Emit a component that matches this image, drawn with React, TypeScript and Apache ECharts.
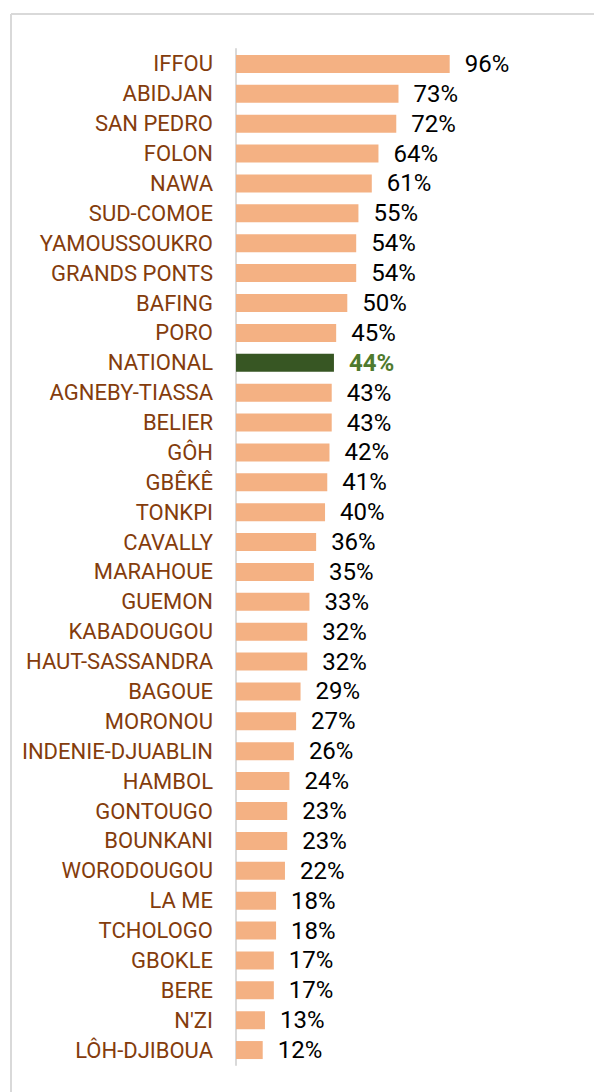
import React, { useEffect, useRef } from "react";
import * as echarts from "echarts";

const categories = [
  "IFFOU", "ABIDJAN", "SAN PEDRO", "FOLON", "NAWA", "SUD-COMOE", "YAMOUSSOUKRO",
  "GRANDS PONTS", "BAFING", "PORO", "NATIONAL", "AGNEBY-TIASSA", "BELIER", "GÔH",
  "GBÊKÊ", "TONKPI", "CAVALLY", "MARAHOUE", "GUEMON", "KABADOUGOU", "HAUT-SASSANDRA",
  "BAGOUE", "MORONOU", "INDENIE-DJUABLIN", "HAMBOL", "GONTOUGO", "BOUNKANI",
  "WORODOUGOU", "LA ME", "TCHOLOGO", "GBOKLE", "BERE", "N'ZI", "LÔH-DJIBOUA",
];
const values = [
  96, 73, 72, 64, 61, 55, 54, 54, 50, 45, 44, 43, 43, 42, 41, 40, 36, 35, 33, 32,
  32, 29, 27, 26, 24, 23, 23, 22, 18, 18, 17, 17, 13, 12,
];
const highlight = "NATIONAL";

export default function App() {
  const ref = useRef<HTMLDivElement>(null);
  useEffect(() => {
    document.body.style.margin = "0";
    if (!ref.current) return;
    const chart = echarts.init(ref.current, null, { renderer: "svg" });
    const data = values.map((v, i) => {
      const isHi = categories[i] === highlight;
      return {
        value: v,
        itemStyle: { color: isHi ? "#375623" : "#F4B183" },
        label: isHi
          ? { color: "#4F7A2E", fontWeight: "bold" as const }
          : { color: "#000000", fontWeight: "normal" as const },
      };
    });
    chart.setOption({
      animation: false,
      backgroundColor: "#ffffff",
      graphic: [
        {
          type: "line",
          shape: { x1: 11, y1: 14, x2: 800, y2: 14 },
          style: { stroke: "#d9d9d9", lineWidth: 2 },
          silent: true,
        },
        {
          type: "line",
          shape: { x1: 11, y1: 14, x2: 11, y2: 1300 },
          style: { stroke: "#d9d9d9", lineWidth: 2 },
          silent: true,
        },
      ],
      grid: { left: 236, top: 49, width: 222.6, height: 1016, containLabel: false },
      xAxis: {
        type: "value",
        min: 0,
        max: 100,
        show: false,
      },
      yAxis: {
        type: "category",
        data: categories,
        inverse: true,
        axisLine: { show: true, lineStyle: { color: "#d9d9d9", width: 2 } },
        axisTick: { show: false },
        axisLabel: {
          color: "#843C0C",
          fontFamily: "Roboto",
          fontSize: 22,
          margin: 23,
        },
      },
      series: [
        {
          type: "bar",
          data,
          barWidth: 18,
          label: {
            show: true,
            position: "right",
            distance: 15,
            fontFamily: "Roboto",
            fontSize: 24,
            formatter: (p: any) => p.value + "%",
          },
        },
      ],
    });
    return () => chart.dispose();
  }, []);
  return <div ref={ref} style={{ width: 594, height: 1092 }} />;
}
